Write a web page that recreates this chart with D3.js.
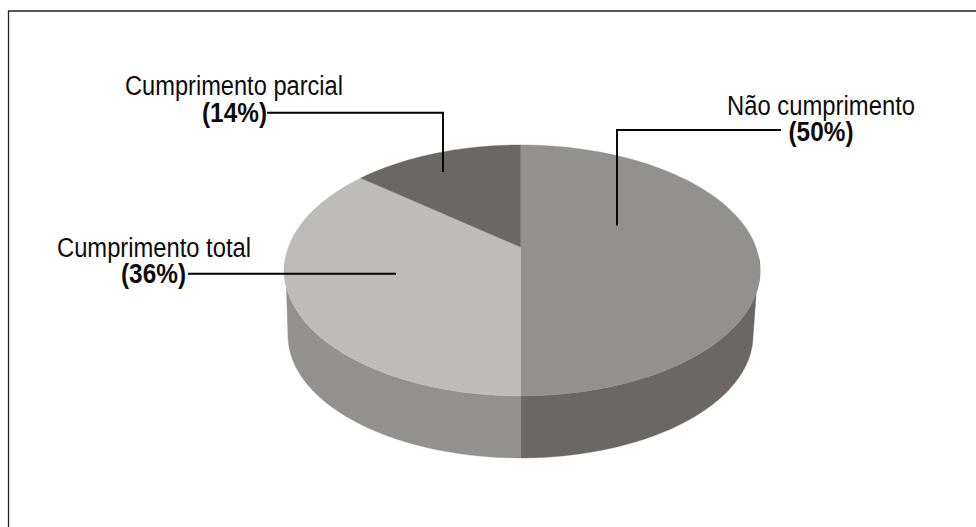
<!DOCTYPE html>
<html><head><meta charset="utf-8">
<style>html,body{margin:0;padding:0;background:#fff;overflow:hidden}svg{display:block}
text{font-family:"Liberation Sans",sans-serif;fill:#0d0d0d}</style>
<script src="https://cdn.jsdelivr.net/npm/d3@7/dist/d3.min.js"></script>
</head><body><svg id="c" width="976" height="527"></svg>
<script>
const categories = ["Não cumprimento", "Cumprimento total", "Cumprimento parcial"];
const values = [50, 36, 14];
const valueLabels = ["(50%)", "(36%)", "(14%)"];
const topColors = ["#929190", "#bdbcba", "#6b6764"];
const sideColors = ["#6b6764", "#929190"];

const svg = d3.select("#c");
svg.append("path").attr("d","M8.5 527V11H976").attr("fill","none").attr("stroke","#222").attr("stroke-width",1.3);

const cx = 520.5, hubY = 247, persp = -0.187, A = 74.9;
const projectWith = (CL, CR) => (a, r = 1) => {
  const u = r * Math.sin(a), v = -r * Math.cos(a), d = 1 + persp * v;
  return [cx + (u < 0 ? CL : CR) * u / d, (A * v + hubY) / d];
};
const project = projectWith(232, 235.3);
const symmetric = projectWith(233.8, 233.8);
const baseScale = 0.977, midY = 270.5, baseMidY = 335.4;
const projectBase = a => {
  const [x, y] = symmetric(a);
  return [cx + baseScale * (x - cx), baseMidY + baseScale * (y - midY)];
};
const arcPts = (a0, a1, fn) => d3.range(0, 121).map(i => fn(a0 + (a1 - a0) * i / 120));
const line = d3.line();

const arcs = d3.pie().sort(null).value(d => d)(values);

// side wall: right-hand quarter then left-hand quarter, from silhouette to the front
const topSil = 0.09, baseSil = 0.2, front = Math.PI;
[[Math.PI / 2, 1], [Math.PI * 1.5, -1]].forEach(([edge, dir], i) => {
  const pts = arcPts(edge + dir * topSil, front, project)
    .concat(arcPts(edge + dir * baseSil, front, projectBase).reverse());
  svg.append("path").attr("d", line(pts) + "Z").attr("fill", sideColors[i])
    .attr("stroke", sideColors[i]).attr("stroke-width", 0.4);
});

// top surface
arcs.forEach((s, i) => {
  const pts = [project(0, 0)].concat(arcPts(s.startAngle, s.endAngle, project));
  svg.append("path").attr("d", line(pts) + "Z").attr("fill", topColors[i])
    .attr("stroke", topColors[i]).attr("stroke-width", 0.4);
});

// leaders
const leaders = [
  [[781, 130], [617, 130], [617, 225.5]],
  [[188, 273.7], [396, 273.7]],
  [[267, 112.8], [443, 112.8], [443, 172]]
];
leaders.forEach(p => svg.append("path").attr("d", line(p)).attr("fill","none").attr("stroke","#000").attr("stroke-width",1.9));

// labels
const labelX = [821, 154, 234], pctX = [821, 153.5, 234.5];
const labelY = [115, 257, 95], pctY = [141, 283, 122];
const labelW = [188, 194, 218], pctW = 65;
categories.forEach((c, i) => {
  svg.append("text").attr("x", labelX[i]).attr("y", labelY[i]).attr("text-anchor","middle")
    .attr("font-size", 27).attr("textLength", labelW[i]).attr("lengthAdjust","spacingAndGlyphs").text(c);
  svg.append("text").attr("x", pctX[i]).attr("y", pctY[i]).attr("text-anchor","middle")
    .attr("font-size", 27).attr("font-weight","bold").attr("textLength", pctW).attr("lengthAdjust","spacingAndGlyphs").text(valueLabels[i]);
});
</script></body></html>
